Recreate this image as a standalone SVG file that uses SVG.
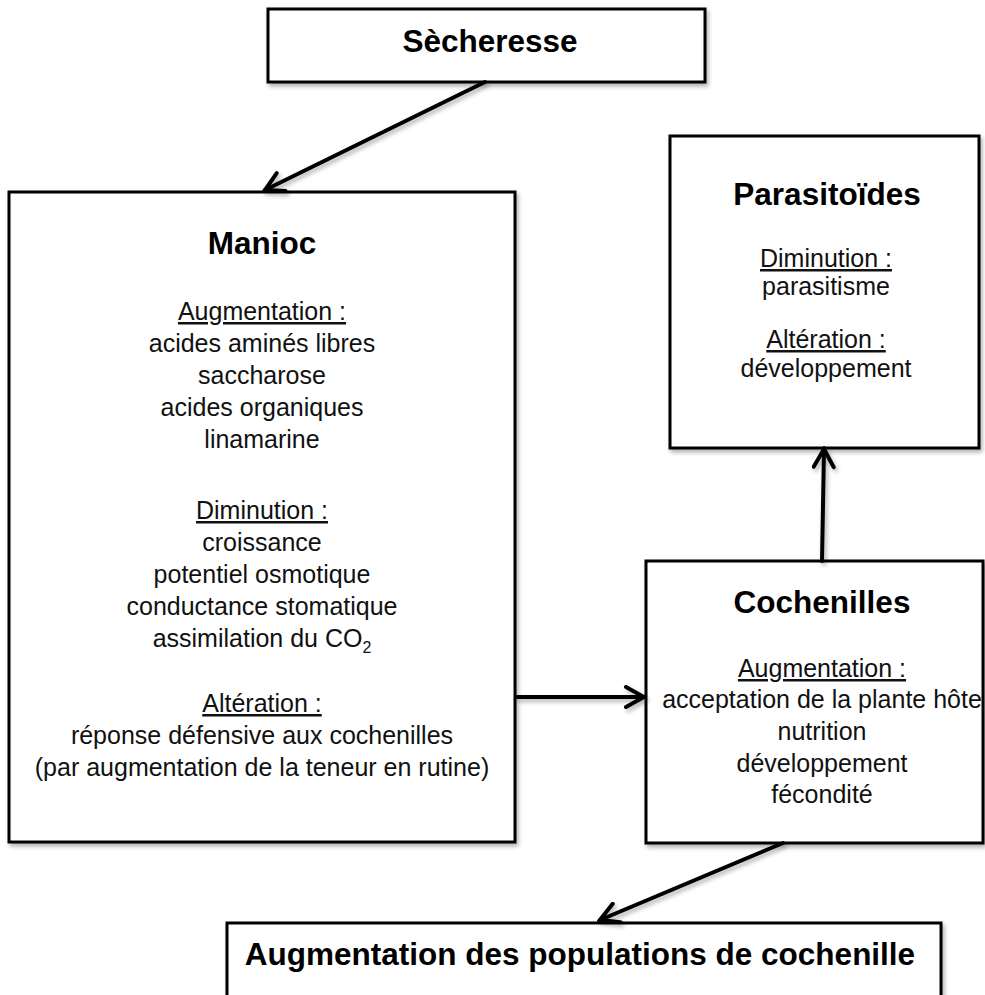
<svg xmlns="http://www.w3.org/2000/svg" width="985" height="995" viewBox="0 0 985 995">
<style>
.box{fill:#fff;stroke:#000;stroke-width:3;filter:url(#sh)}
.t{font-family:"Liberation Sans",Arial,Helvetica,sans-serif;font-weight:bold;font-size:31.5px;text-anchor:middle;fill:#000}
.b{font-family:"Liberation Sans",Arial,Helvetica,sans-serif;font-size:25px;text-anchor:middle;fill:#111}
.u{text-decoration:underline}
.c{fill:none;stroke:#000;stroke-width:4;stroke-linecap:round;filter:url(#sh)}
</style>
<defs>
<filter id="sh" filterUnits="userSpaceOnUse" x="0" y="0" width="985" height="1010">
<feDropShadow dx="2" dy="3" stdDeviation="2" flood-color="#000" flood-opacity="0.3"/>
</filter>
<marker id="ah" viewBox="0 0 24 24" refX="21" refY="12" markerWidth="24" markerHeight="24" markerUnits="userSpaceOnUse" orient="auto">
<path d="M3,2 L21,12 L3,22" fill="none" stroke="#000" stroke-width="4" stroke-linecap="round" stroke-linejoin="miter"/>
</marker>
</defs>
<rect width="985" height="995" fill="#fff"/>

<g id="secheresse">
<rect class="box" x="268" y="9" width="437" height="73"/>
<text class="t" x="490" y="52">Sècheresse</text>
</g>

<g id="manioc">
<rect class="box" x="9" y="192" width="506" height="650"/>
<text class="t" x="262" y="254">Manioc</text>
<text class="b u" x="262" y="320">Augmentation :</text>
<text class="b" x="262" y="352">acides aminés libres</text>
<text class="b" x="262" y="384">saccharose</text>
<text class="b" x="262" y="416">acides organiques</text>
<text class="b" x="262" y="448">linamarine</text>
<text class="b u" x="262" y="519">Diminution :</text>
<text class="b" x="262" y="551">croissance</text>
<text class="b" x="262" y="583">potentiel osmotique</text>
<text class="b" x="262" y="615">conductance stomatique</text>
<text class="b" x="262" y="647">assimilation du CO<tspan font-size="16" dy="6">2</tspan></text>
<text class="b u" x="262" y="712">Altération :</text>
<text class="b" x="262" y="744">réponse défensive aux cochenilles</text>
<text class="b" x="262" y="776">(par augmentation de la teneur en rutine)</text>
</g>

<g id="parasitoides">
<rect class="box" x="670" y="136" width="309" height="312"/>
<text class="t" x="827" y="205">Parasitoïdes</text>
<text class="b u" x="826" y="267">Diminution :</text>
<text class="b" x="826" y="295">parasitisme</text>
<text class="b u" x="826" y="348">Altération :</text>
<text class="b" x="826" y="377">développement</text>
</g>

<g id="cochenilles">
<rect class="box" x="646" y="561" width="337" height="282"/>
<text class="t" x="822" y="613">Cochenilles</text>
<text class="b u" x="822" y="677">Augmentation :</text>
<text class="b" x="822" y="708">acceptation de la plante hôte</text>
<text class="b" x="822" y="740">nutrition</text>
<text class="b" x="822" y="772">développement</text>
<text class="b" x="822" y="803">fécondité</text>
</g>

<g id="populations">
<rect class="box" x="227" y="923" width="714" height="90"/>
<text class="t" x="580" y="965">Augmentation des populations de cochenille</text>
</g>

<g id="connectors">
<line class="c" x1="485" y1="82" x2="265" y2="190" marker-end="url(#ah)"/>
<line class="c" x1="517" y1="697" x2="644" y2="697" marker-end="url(#ah)"/>
<line class="c" x1="822" y1="561" x2="824" y2="449" marker-end="url(#ah)"/>
<line class="c" x1="783" y1="843" x2="600" y2="920" marker-end="url(#ah)"/>
</g>
</svg>
